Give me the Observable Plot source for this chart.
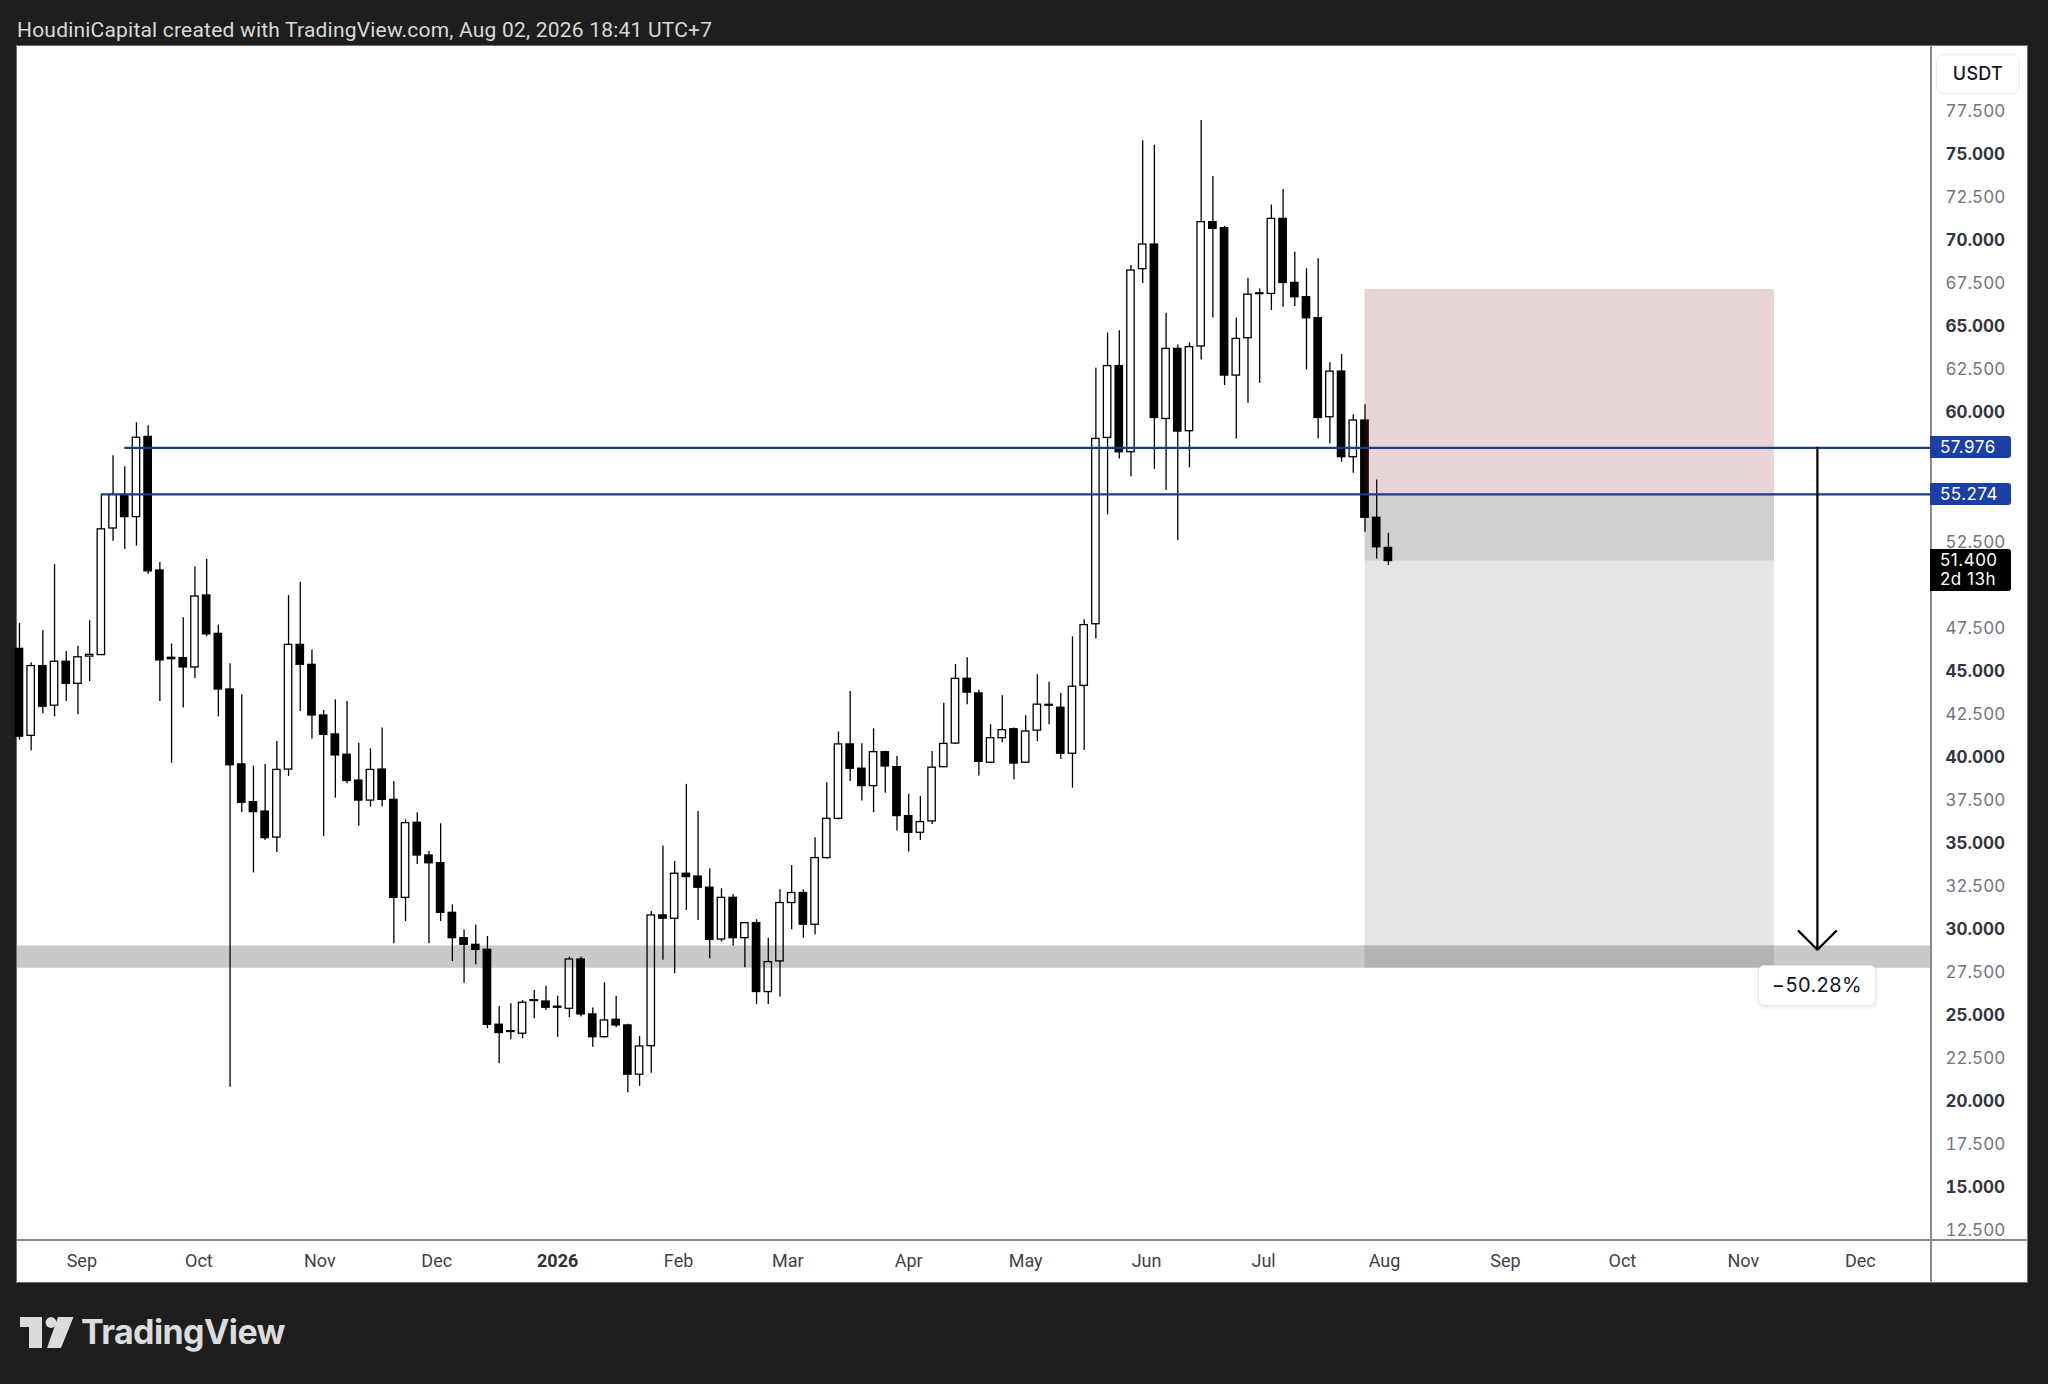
<!DOCTYPE html>
<html>
<head>
<meta charset="utf-8">
<script src="https://cdn.jsdelivr.net/npm/d3@7"></script>
<script src="https://cdn.jsdelivr.net/npm/@observablehq/plot@0.6"></script>
<style>
  html, body { margin: 0; padding: 0; background: #1e1e1e; width: 2048px; height: 1384px; overflow: hidden; }
  #header { position: absolute; left: 17px; top: 17px; font: 21px Roboto, sans-serif; color: #d9d9d9; white-space: nowrap; line-height: 26px; letter-spacing: 0.2px; }
  #panel { position: absolute; left: 17px; top: 46px; width: 2010px; height: 1236px; background: #fff; outline: 1px solid #6f6f6f; }
  #panel svg { position: absolute; left: 0; top: 0; overflow: visible; }
  .sep { position: absolute; background: #8a8a8a; }
  .plabel { position: absolute; width: 81px; height: 22px; color: #fff; font: 17px Inter, sans-serif; line-height: 22px; padding-left: 10px; box-sizing: border-box; border-radius: 0 3px 3px 0; letter-spacing: 0.5px; }
  #usdt { position: absolute; left: 1919px; top: 8px; width: 84px; height: 40px; border: 1px solid #ececec; border-radius: 8px; box-sizing: border-box; font: 500 18px Inter, sans-serif; color: #131722; text-align: center; line-height: 38px; background: #fff; letter-spacing: 0.3px; }
  #pct { position: absolute; width: 118px; height: 41px; background: #fff; border: 1px solid #e6e6e6; border-radius: 6px; box-sizing: border-box; box-shadow: 0 1px 4px rgba(0,0,0,0.12); font: 20px Inter, sans-serif; color: #131722; text-align: center; line-height: 39px; letter-spacing: 0.4px; }
  #logo { position: absolute; left: 20px; top: 1312px; height: 40px; }
  #logo .word { position: absolute; left: 61px; top: 0px; font: 700 34px Inter, sans-serif; color: #dcdcdc; letter-spacing: -0.6px; white-space: nowrap; line-height: 40px; }
</style>
</head>
<body>
<div id="header">HoudiniCapital created with TradingView.com, Aug 02, 2026 18:41 UTC+7</div>
<div id="panel"></div>
<div id="logo">
  <svg width="54" height="40" viewBox="0 0 54 40" style="position:absolute;left:0;top:0">
    <path d="M0 5 H22 V36 H9 V15 H0 Z" fill="#dcdcdc"/>
    <circle cx="31" cy="10.5" r="5.4" fill="#dcdcdc"/>
    <path d="M38 5 H53.5 L41 36 H27 Z" fill="#dcdcdc"/>
  </svg>
  <div class="word">TradingView</div>
</div>
<script>
// ---- Candles: 3-day bars starting 2025-08-16 ----
const candleStart = "2025-08-16";
const candleStepDays = 3;
const open = [
  46.30,41.25,45.30,43.00,45.55,44.27,45.85,45.94,53.29,55.24,
  53.95,58.61,50.85,45.78,45.76,45.22,49.40,47.17,43.94,39.59,
  37.40,36.85,35.34,39.29,46.53,45.37,42.43,41.33,40.15,38.65,
  37.49,39.29,37.53,31.84,36.20,34.30,33.85,30.97,29.50,29.11,
  28.82,24.47,24.05,23.95,25.90,25.82,25.52,25.40,28.26,25.07,
  23.75,24.76,24.43,21.57,23.23,30.82,30.63,33.24,33.08,32.43,
  29.42,31.84,29.50,30.37,26.37,28.15,31.54,32.12,30.28,34.15,
  36.43,40.75,39.34,38.33,40.30,39.43,36.59,35.62,36.28,39.43,
  40.80,44.56,43.71,39.69,41.11,41.63,39.69,41.55,43.00,42.88,
  40.21,44.15,47.73,58.55,62.72,57.72,68.35,69.78,59.65,63.72,
  58.94,63.86,71.08,70.73,62.17,64.34,66.90,66.91,71.27,67.55,
  66.72,65.50,59.75,62.40,57.43,59.56,53.91,52.16
];
const high = [
  47.78,45.50,47.37,51.19,46.14,46.45,47.93,55.28,57.51,56.87,
  59.43,59.25,51.32,46.58,48.11,51.06,51.50,47.68,45.43,43.63,
  39.49,39.58,40.92,49.40,50.17,46.24,42.72,43.34,43.24,40.82,
  40.49,41.71,38.60,36.37,36.78,34.53,36.14,31.43,29.98,30.27,
  29.60,25.53,25.69,25.88,26.46,26.70,26.12,28.40,28.40,25.44,
  26.91,26.12,24.50,23.79,31.05,34.85,33.95,38.43,36.86,33.53,
  32.37,32.04,30.40,30.57,29.50,32.31,33.72,32.31,35.33,38.52,
  41.47,43.83,40.79,41.66,40.36,40.05,37.85,37.73,40.34,43.14,
  45.39,45.78,43.89,41.89,43.58,41.71,42.41,44.80,44.36,43.71,
  47.00,47.99,62.59,64.64,64.77,68.56,75.80,75.54,65.79,63.95,
  64.07,76.98,73.73,70.84,65.52,67.82,67.20,72.08,72.97,69.33,
  68.37,68.95,62.91,63.39,59.89,60.47,56.11,53.01
];
const low = [
  41.00,40.38,42.53,42.35,43.25,42.48,44.40,45.90,52.55,52.09,
  52.26,50.62,43.25,39.66,42.86,44.58,47.00,42.35,20.84,36.80,
  33.29,35.17,34.47,38.89,42.66,41.07,35.40,37.63,38.46,36.00,
  37.11,37.11,29.17,30.47,33.78,29.17,30.47,28.14,26.88,27.95,
  24.24,22.20,23.60,23.66,24.82,25.30,23.75,24.88,24.92,23.17,
  23.70,24.30,20.52,20.89,21.66,28.21,27.43,31.11,30.53,28.30,
  29.27,29.04,27.78,25.65,25.65,26.08,29.99,29.50,29.70,34.09,
  36.37,38.60,37.46,36.78,37.92,35.72,34.50,35.17,36.10,39.40,
  40.75,43.06,38.91,39.64,40.85,38.70,39.64,40.91,41.89,39.89,
  38.21,40.39,46.87,54.08,57.33,56.29,67.52,56.73,55.49,52.59,
  56.81,63.08,65.52,61.59,58.49,60.56,61.72,65.95,66.14,66.18,
  62.50,58.49,58.20,57.14,56.50,53.07,51.52,51.14
];
const close = [
  41.20,45.30,42.94,45.55,44.27,45.81,45.95,53.24,55.24,53.95,
  58.56,50.80,45.63,45.70,45.22,49.34,47.14,43.94,39.54,37.36,
  36.82,35.31,39.27,46.53,45.37,42.43,41.31,40.11,38.63,37.49,
  39.27,37.53,31.84,36.18,34.30,33.85,30.97,29.50,29.11,28.82,
  24.47,23.99,24.10,25.75,25.85,25.46,25.46,28.26,25.07,23.75,
  24.72,24.43,21.57,23.21,30.82,30.63,33.24,33.05,32.43,29.40,
  31.84,29.50,30.37,26.37,28.11,31.54,32.12,30.28,34.15,36.43,
  40.75,39.34,38.33,40.30,39.47,36.59,35.62,36.24,39.40,40.78,
  44.56,43.76,39.74,41.11,41.58,39.64,41.50,43.06,43.05,40.21,
  44.10,47.68,58.49,62.72,57.72,68.27,69.78,59.71,63.72,58.92,
  63.82,71.08,70.69,62.17,64.30,66.87,66.95,71.27,67.55,66.72,
  65.50,59.71,62.40,57.43,59.56,53.91,52.20,51.40
];

// ---- Axes ----
const xDomain = ["2025-08-15T12:00:00Z", "2026-12-19T00:00:00Z"];
const yDomain = [12.0, 81.28];
// 50.000 and 55.000 are hidden behind the price-scale labels in the original
const majorTicks = [15, 20, 25, 30, 35, 40, 45, 60, 65, 70, 75];
const minorTicks = [12.5, 17.5, 22.5, 27.5, 32.5, 37.5, 42.5, 47.5, 52.5, 62.5, 67.5, 72.5, 77.5];
const monthTicks = ["2025-09-01","2025-10-01","2025-11-01","2025-12-01","2026-01-01","2026-02-01","2026-03-01","2026-04-01","2026-05-01","2026-06-01","2026-07-01","2026-08-01","2026-09-01","2026-10-01","2026-11-01","2026-12-01"];
const monthLabels = ["Sep","Oct","Nov","Dec","2026","Feb","Mar","Apr","May","Jun","Jul","Aug","Sep","Oct","Nov","Dec"];
const boldMonthLabels = ["2026"];

// ---- Drawings ----
const levelPrices = [57.976, 55.274];
const levelStarts = ["2025-09-12", "2025-09-06"];
const bandPrices = [27.75, 29.05];
const positionDates = ["2026-07-27", "2026-11-09"];
const positionLevels = [67.17, 55.274, 51.40, 27.75]; // stop, entry, current, target
const measureDate = "2026-11-20";
const measurePrices = [57.976, 28.825];
const measureLabel = "\u221250.28%";
const currentLabel = ["51.400", "2d 13h"];
const unitLabel = "USDT";

// ---- Build ----
const DAY = 864e5;
const t0 = new Date(candleStart + "T00:00:00Z").getTime();
const candles = open.map((o, i) => ({
  date: new Date(t0 + i * candleStepDays * DAY),
  open: o, high: high[i], low: low[i], close: close[i]
}));
const up = candles.filter(d => d.close >= d.open);
const down = candles.filter(d => d.close < d.open);
const bx1 = d => new Date(+d.date - 0.95 * DAY);
const bx2 = d => new Date(+d.date + 0.95 * DAY);

const xd = xDomain.map(s => new Date(s));
const levels = levelPrices.map((p, i) => ({price: p, start: new Date(levelStarts[i] + "T00:00:00Z"), end: xd[1]}));
const pd = positionDates.map(s => new Date(s + "T00:00:00Z"));
const md = new Date(measureDate + "T00:00:00Z");
const monthDates = monthTicks.map(s => new Date(s + "T00:00:00Z"));
const labelOf = d => monthLabels[monthDates.findIndex(m => +m === +d)];
const normalMonths = monthDates.filter(d => !boldMonthLabels.includes(labelOf(d)));
const boldMonths = monthDates.filter(d => boldMonthLabels.includes(labelOf(d)));

const W = 2010, H = 1236, MR = 97, MB = 43;

const chart = Plot.plot({
  width: W, height: H,
  marginTop: 0, marginLeft: 0, marginRight: MR, marginBottom: MB,
  x: {type: "utc", domain: xd},
  y: {domain: yDomain},
  style: {background: "transparent", fontFamily: "Inter, sans-serif"},
  marks: [
    Plot.ruleX(candles, {x: "date", y1: "low", y2: "high", stroke: "#000", strokeWidth: 1.3}),
    Plot.rect(up, {x1: bx1, x2: bx2, y1: "open", y2: "close", fill: "#fff", stroke: "#000", strokeWidth: 1.3}),
    Plot.rect(down, {x1: bx1, x2: bx2, y1: "open", y2: "close", fill: "#000", stroke: "#000", strokeWidth: 1.3}),
    // short position tool
    Plot.rect([0], {x1: () => pd[0], x2: () => pd[1], y1: () => positionLevels[1], y2: () => positionLevels[0], fill: "#8c2838", fillOpacity: 0.2}),
    Plot.rect([0], {x1: () => pd[0], x2: () => pd[1], y1: () => positionLevels[3], y2: () => positionLevels[1], fill: "#000", fillOpacity: 0.1}),
    Plot.rect([0], {x1: () => pd[0], x2: () => pd[1], y1: () => positionLevels[2], y2: () => positionLevels[1], fill: "#000", fillOpacity: 0.09}),
    // grey support band
    Plot.rect([0], {x1: () => xd[0], x2: () => xd[1], y1: () => bandPrices[0], y2: () => bandPrices[1], fill: "#000", fillOpacity: 0.21}),
    // horizontal levels
    Plot.ruleY(levels, {y: "price", x1: "start", x2: "end", stroke: "#1b3a8c", strokeWidth: 2.2}),
    // price range measure
    Plot.arrow([0], {x1: () => md, x2: () => md, y1: () => measurePrices[0], y2: () => measurePrices[1], stroke: "#000", strokeWidth: 2.2, headAngle: 90, headLength: 18}),
    // axes
    Plot.axisY({ticks: minorTicks, anchor: "right", tickSize: 0, tickPadding: 15, tickFormat: d => d.toFixed(3), fontSize: 17, color: "#72757e", fontFamily: "Inter, sans-serif"}),
    Plot.axisY({ticks: majorTicks, anchor: "right", tickSize: 0, tickPadding: 15, tickFormat: d => d.toFixed(3), fontSize: 17, fontWeight: 700, color: "#33353c", fontFamily: "Inter, sans-serif"}),
    Plot.axisX({ticks: normalMonths, anchor: "bottom", tickSize: 0, tickPadding: 15, tickFormat: labelOf, fontSize: 18, color: "#3f4148", fontFamily: "Roboto, sans-serif"}),
    Plot.axisX({ticks: boldMonths, anchor: "bottom", tickSize: 0, tickPadding: 15, tickFormat: labelOf, fontSize: 18, fontWeight: 700, color: "#2e3036", fontFamily: "Roboto, sans-serif"})
  ]
});

const panel = document.getElementById("panel");
panel.appendChild(chart);
const sx = chart.scale("x"), sy = chart.scale("y");
const plotRight = W - MR, plotBottom = H - MB;

function div(cls, css, html) {
  const e = document.createElement("div");
  if (cls) e.className = cls;
  Object.assign(e.style, css);
  if (html != null) e.innerHTML = html;
  panel.appendChild(e);
  return e;
}
// pane separators
div("sep", {left: plotRight + "px", top: "0px", width: "1.5px", height: H + "px"});
div("sep", {left: "0px", top: plotBottom + "px", width: W + "px", height: "1.5px"});

// unit box
const u = div(null, {}, unitLabel); u.id = "usdt";

// level labels on price scale
levelPrices.forEach(p => {
  div("plabel", {left: plotRight + "px", top: (sy.apply(p) - 11) + "px", background: "#1c3fa6"}, p.toFixed(3));
});
// current price box
div(null, {position: "absolute", left: plotRight + "px", top: (sy.apply(positionLevels[2]) - 12) + "px", width: "81px", height: "42px",
  background: "#000", color: "#fff", font: "17px Inter, sans-serif", lineHeight: "19px", paddingLeft: "10px", paddingTop: "2px",
  boxSizing: "border-box", letterSpacing: "0.5px", borderRadius: "0 3px 3px 0"}, currentLabel.join("<br>"));
// measure label
const pct = div(null, {left: (sx.apply(md) - 59) + "px", top: (sy.apply(measurePrices[1]) + 16) + "px"}, measureLabel);
pct.id = "pct";
</script>
</body>
</html>
